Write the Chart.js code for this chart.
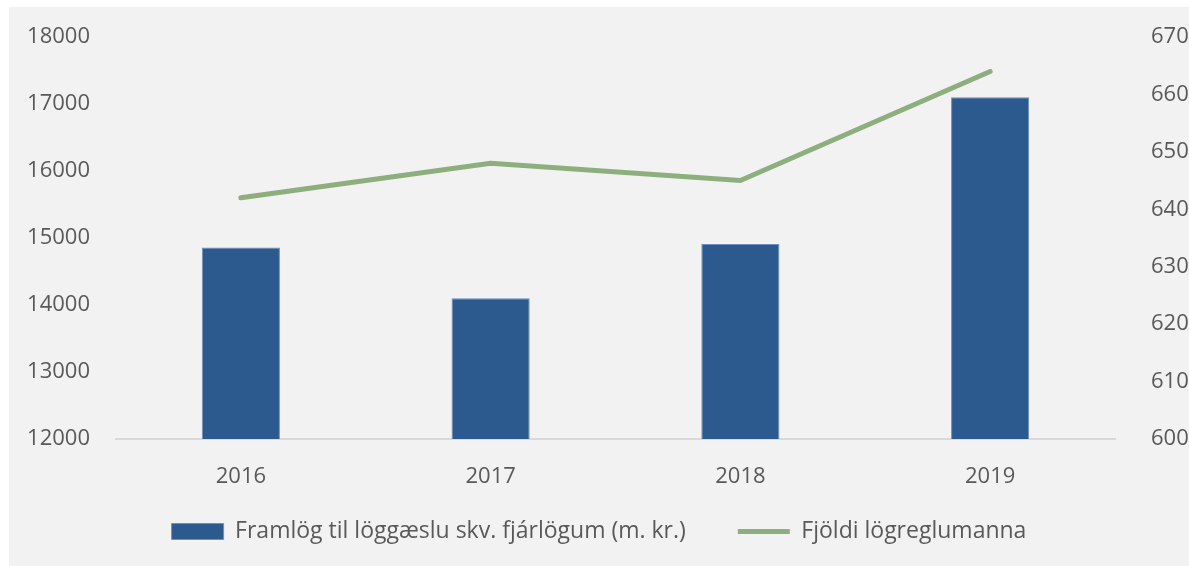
<!DOCTYPE html>
<html>
<head>
<meta charset="utf-8">
<script src="https://cdn.jsdelivr.net/npm/chart.js@4"></script>
<style>
  html, body { margin: 0; padding: 0; background: #fff; }
  #wrap { position: absolute; left: 9px; top: 7px; width: 1180px; height: 559px; background: #f2f2f2; }
</style>
</head>
<body>
<div id="wrap"><canvas id="chart" width="1180" height="559"></canvas></div>
<script>
// data
var years = ['2016', '2017', '2018', '2019'];
var framlog = [14860, 14100, 14910, 17100];
var logreglumenn = [642, 648, 645, 664];
var leftTicks = [12000, 13000, 14000, 15000, 16000, 17000, 18000];
var rightTicks = [600, 610, 620, 630, 640, 650, 660, 670];

var tickFont = { family: 'Open Sans', size: 22 };
var legendFont = { family: 'Open Sans', size: 23 };
var tickColor = '#595959';

// legend keeps the wide gap between items but gets a fixed height
var legendFitPlugin = {
  id: 'legendFit',
  afterInit: function(c) {
    var lg = c.legend;
    var fit = lg.fit;
    lg.fit = function() {
      fit.call(this);
      this.height = 98;
    };
  }
};

function fixY(w) {
  return function(s) {
    s.width = w;
    s.paddingTop = 0;
    s.paddingBottom = 0;
  };
}

var ctx = document.getElementById('chart');
var chart = new Chart(ctx, {
  type: 'bar',
  data: {
    labels: years,
    datasets: [
      {
        type: 'line',
        label: 'Fjöldi lögreglumanna',
        data: logreglumenn,
        yAxisID: 'y2',
        borderColor: '#8daf7d',
        backgroundColor: '#8daf7d',
        borderWidth: 5,
        borderCapStyle: 'round',
        pointRadius: 0,
        tension: 0,
        order: 0
      },
      {
        label: 'Framlög til löggæslu skv. fjárlögum (m. kr.)',
        data: framlog,
        yAxisID: 'y',
        backgroundColor: '#2c5a8f',
        borderColor: '#6b90bd',
        borderWidth: 1,
        categoryPercentage: 1,
        barPercentage: 0.313,
        order: 1
      }
    ]
  },
  plugins: [legendFitPlugin],
  options: {
    responsive: false,
    animation: false,
    layout: { padding: { top: 30, bottom: 0, left: 0, right: 0 } },
    plugins: {
      tooltip: { enabled: false },
      legend: {
        position: 'bottom',
        reverse: true,
        labels: {
          font: legendFont,
          color: tickColor,
          usePointStyle: true,
          pointStyleWidth: 52,
          boxHeight: 16,
          padding: 52,
          generateLabels: function(c) {
            var items = Chart.defaults.plugins.legend.labels.generateLabels(c);
            items.forEach(function(it) {
              var ds = c.data.datasets[it.datasetIndex];
              it.pointStyle = ds.type === 'line' ? 'line' : 'rect';
            });
            return items;
          }
        }
      }
    },
    scales: {
      x: {
        grid: { display: false },
        border: { color: '#d9d9d9', width: 2 },
        ticks: { font: tickFont, color: tickColor, padding: 17 },
        afterFit: function(s) {
          s.height = 29;
          s._computeLabelArea = function() { return undefined; };
        }
      },
      y: {
        position: 'left',
        min: 12000,
        max: 18000,
        grid: { display: false },
        border: { display: false },
        afterBuildTicks: function(s) { s.ticks = leftTicks.map(function(v) { return { value: v }; }); },
        ticks: { font: tickFont, color: tickColor, padding: 18, callback: function(v) { return String(v); } },
        afterFit: fixY(107)
      },
      y2: {
        position: 'right',
        min: 600,
        max: 670,
        grid: { display: false },
        border: { display: false },
        afterBuildTicks: function(s) { s.ticks = rightTicks.map(function(v) { return { value: v }; }); },
        ticks: { font: tickFont, color: tickColor, padding: 28, callback: function(v) { return String(v); } },
        afterFit: fixY(74)
      }
    }
  }
});
</script>
</body>
</html>
